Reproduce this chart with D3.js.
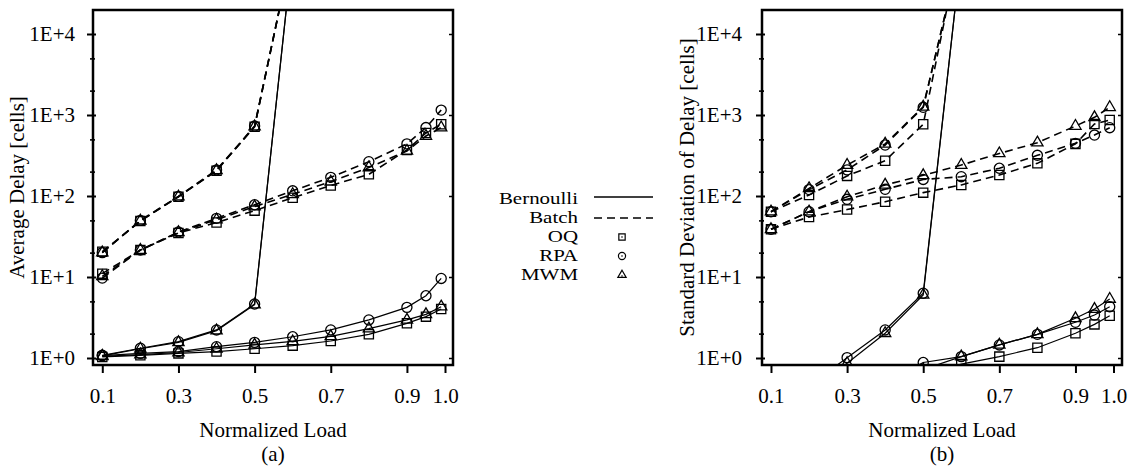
<!DOCTYPE html>
<html><head><meta charset="utf-8">
<script src="https://cdn.jsdelivr.net/npm/d3@7/dist/d3.min.js"></script>
<style>
html,body{margin:0;padding:0;background:#fff;}
text{font-family:"Liberation Serif","Times New Roman",serif;fill:#000;}
</style></head>
<body>
<svg id="chart" width="1133" height="473"></svg>
<script>
// ---------- data ----------
const loads = [0.1,0.2,0.3,0.4,0.5,0.6,0.7,0.8,0.9,0.95,0.99];
const loadsUnstable = [0.1,0.2,0.3,0.4,0.5,0.6];
const xTicks = [0.1,0.3,0.5,0.7,0.9,1.0];
const yTicks = [1,10,100,1000,10000];
const yMinor = [2,5,20,50,200,500,2000,5000];

// (a) Average delay
const aBernOQ  = [1.03,1.08,1.14,1.2,1.3,1.42,1.62,1.96,2.68,3.24,4.02];
const aBernRPA = [1.07,1.14,1.2,1.38,1.56,1.83,2.22,2.95,4.22,5.87,9.6];
const aBernMWM = [1.05,1.1,1.17,1.3,1.45,1.6,1.85,2.3,2.95,3.46,4.3];
const aBernUnstRPA = [1.08,1.32,1.59,2.22,4.64,110000];
const aBernUnstMWM = [1.06,1.3,1.56,2.18,4.55,110000];
const aBatchOQ  = [11,21.5,35,47,66,95,135,185,370,600,770];
const aBatchRPA = [9.7,21.5,36,53,78,116,170,265,440,700,1150];
const aBatchMWM = [10.2,21.5,35.5,51,74,105,150,225,360,550,700];
const aBatchUnstOQ  = [20.5,49,98,205,717,120000];
const aBatchUnstRPA = [20,50,99,210,730,120000];
const aBatchUnstMWM = [20,49.5,98,207,720,120000];

// (b) Standard deviation of delay
const bBernOQ  = [null,null,null,0.45,0.62,0.84,1.04,1.34,2.02,2.6,3.33];
const bBernRPA = [null,null,null,0.5,0.88,1.04,1.45,1.96,2.76,3.39,4.3];
const bBernMWM = [null,null,null,0.5,0.72,1.04,1.45,1.96,3.09,4.02,5.35];
const bBernUnstRPA = [null,0.45,1.01,2.22,6.3,100000];
const bBernUnstMWM = [null,0.42,0.86,2.02,6.0,100000];
const bBatchOQ  = [38.8,55,68,85,110,137,182,253,440,774,867];
const bBatchRPA = [38.8,64,91,121,160,173,220,318,447,566,697];
const bBatchMWM = [38.8,64,98,137,180,241,335,455,731,936,1245];
const bBatchUnstOQ  = [64,103,177,273,767,150000];
const bBatchUnstRPA = [64,120,210,426,1245,120000];
const bBatchUnstMWM = [64,124,241,440,1260,120000];

const legendTraffic = ["Bernoulli","Batch"];
const legendAlgos = ["OQ","RPA","MWM"];

// ---------- drawing ----------
const svg = d3.select("#chart");
const FONT = 21;
const symType = {OQ: d3.symbolSquare, RPA: d3.symbolCircle, MWM: d3.symbolTriangle};
const symSize = {OQ: 85, RPA: 80, MWM: 55};

function mk(xs, ys, algo, dashed){ return {xs, ys, algo, dashed}; }

function drawPanel(cfg){
  const {left,right,top,bottom,xDom,series,yLabel,yLabelX,sub,pad,id} = cfg;
  const x = d3.scaleLinear().domain(xDom).range([left,right]);
  const y = d3.scaleLog().domain([Math.pow(10,-7/81), Math.pow(10,348/81)]).range([bottom,top]);
  const g = svg.append("g");
  g.append("clipPath").attr("id","clip"+id).append("rect")
    .attr("x",left).attr("y",top).attr("width",right-left).attr("height",bottom-top);
  const plot = g.append("g").attr("clip-path","url(#clip"+id+")");
  const line = d3.line().defined(d=>d[1]!=null).x(d=>x(d[0])).y(d=>y(d[1]));
  series.forEach(s=>{
    const pts = s.xs.map((v,i)=>[v,s.ys[i]]);
    plot.append("path").attr("d",line(pts)).attr("fill","none").attr("stroke","#000")
      .attr("stroke-width", s.dashed?1.6:1.2)
      .attr("stroke-dasharray", s.dashed?"8,5":null);
  });
  series.forEach(s=>{
    const pts = s.xs.map((v,i)=>[v,s.ys[i]]).filter(d=>d[1]!=null);
    plot.selectAll(null).data(pts).enter().append("path")
      .attr("d", d3.symbol().type(symType[s.algo]).size(symSize[s.algo]))
      .attr("transform", d=>`translate(${x(d[0])},${y(d[1])})`)
      .attr("fill","none").attr("stroke","#000").attr("stroke-width",1.3);
  });
  // frame
  g.append("rect").attr("x",left).attr("y",top).attr("width",right-left).attr("height",bottom-top)
    .attr("fill","none").attr("stroke","#000").attr("stroke-width",2.5);
  // y axis
  const ya = g.append("g").attr("transform",`translate(${left},0)`)
    .call(d3.axisLeft(y).tickValues(yTicks).tickSize(6).tickPadding(pad)
      .tickFormat(d=>"1E+"+Math.round(Math.log10(d))));
  ya.select(".domain").remove();
  ya.selectAll("line").attr("stroke-width",2).attr("x2",-6).attr("x1",3);
  ya.selectAll("text").style("font-size",FONT+"px").style("font-family","Liberation Serif");
  const ym = g.append("g").attr("transform",`translate(${left},0)`)
    .call(d3.axisLeft(y).tickValues(yMinor).tickSize(3).tickFormat(""));
  ym.select(".domain").remove();
  ym.selectAll("line").attr("stroke-width",1.6).attr("x1",2);
  const yr = g.append("g").attr("transform",`translate(${right},0)`)
    .call(d3.axisLeft(y).tickValues(yTicks).tickSize(4).tickFormat(""));
  yr.select(".domain").remove();
  yr.selectAll("line").attr("stroke-width",1.5);
  // x axis
  const xa = g.append("g").attr("transform",`translate(0,${bottom})`)
    .call(d3.axisBottom(x).tickValues(xTicks).tickSize(8).tickPadding(15).tickFormat(d3.format(".1f")));
  xa.select(".domain").remove();
  xa.selectAll("line").attr("stroke-width",2);
  xa.selectAll("text").style("font-size",FONT+"px").style("font-family","Liberation Serif");
  // labels
  g.append("text").attr("transform",`translate(${yLabelX},${(top+bottom)/2}) rotate(-90)`)
    .attr("text-anchor","middle").style("font-size",FONT+"px").text(yLabel);
  g.append("text").attr("x",(left+right)/2).attr("y",437).attr("text-anchor","middle")
    .style("font-size",FONT+"px").text("Normalized Load");
  g.append("text").attr("x",(left+right)/2).attr("y",461).attr("text-anchor","middle")
    .style("font-size",FONT+"px").text(sub);
}

drawPanel({id:"a",left:93,right:453,top:10,bottom:365,xDom:[0.0756,1.021],pad:12,
  yLabel:"Average Delay [cells]", yLabelX:24, sub:"(a)",
  series:[
    mk(loads,aBernOQ,"OQ",false), mk(loads,aBernMWM,"MWM",false), mk(loads,aBernRPA,"RPA",false),
    mk(loadsUnstable,aBernUnstMWM,"MWM",false), mk(loadsUnstable,aBernUnstRPA,"RPA",false),
    mk(loads,aBatchOQ,"OQ",true), mk(loads,aBatchMWM,"MWM",true), mk(loads,aBatchRPA,"RPA",true),
    mk(loadsUnstable,aBatchUnstOQ,"OQ",true), mk(loadsUnstable,aBatchUnstMWM,"MWM",true), mk(loadsUnstable,aBatchUnstRPA,"RPA",true)
  ]});

drawPanel({id:"b",left:762,right:1122,top:10,bottom:365,xDom:[0.0764,1.0223],pad:14,
  yLabel:"Standard Deviation of Delay [cells]", yLabelX:694, sub:"(b)",
  series:[
    mk(loads,bBernOQ,"OQ",false), mk(loads,bBernMWM,"MWM",false), mk(loads,bBernRPA,"RPA",false),
    mk(loadsUnstable,bBernUnstMWM,"MWM",false), mk(loadsUnstable,bBernUnstRPA,"RPA",false),
    mk(loads,bBatchOQ,"OQ",true), mk(loads,bBatchMWM,"MWM",true), mk(loads,bBatchRPA,"RPA",true),
    mk(loadsUnstable,bBatchUnstOQ,"OQ",true), mk(loadsUnstable,bBatchUnstMWM,"MWM",true), mk(loadsUnstable,bBatchUnstRPA,"RPA",true)
  ]});

// legend
const lg = svg.append("g");
const lgY = [204,223,242,261,280];
const lgLabels = legendTraffic.concat(legendAlgos);
lg.selectAll("text").data(lgLabels).enter().append("text")
  .attr("transform",(d,i)=>`translate(578,${lgY[i]}) scale(1.27,1)`)
  .attr("x",0).attr("y",0).attr("text-anchor","end")
  .style("font-size","16.5px").text(d=>d);
lg.append("line").attr("x1",594).attr("x2",653).attr("y1",197).attr("y2",197)
  .attr("stroke","#000").attr("stroke-width",1.3);
lg.append("line").attr("x1",594).attr("x2",653).attr("y1",218).attr("y2",218)
  .attr("stroke","#000").attr("stroke-width",1.3).attr("stroke-dasharray","8,5");
const lgSymY = [237,256,275];
legendAlgos.forEach((a,i)=>{
  lg.append("path").attr("d",d3.symbol().type(symType[a]).size(a==="MWM"?30:40))
    .attr("transform",`translate(622,${lgSymY[i]})`).attr("fill","none").attr("stroke","#000").attr("stroke-width",1.2);
  lg.append("circle").attr("cx",622).attr("cy",lgSymY[i]+(a==="MWM"?1:0)).attr("r",0.8).attr("fill","#000");
});
</script>
</body></html>
